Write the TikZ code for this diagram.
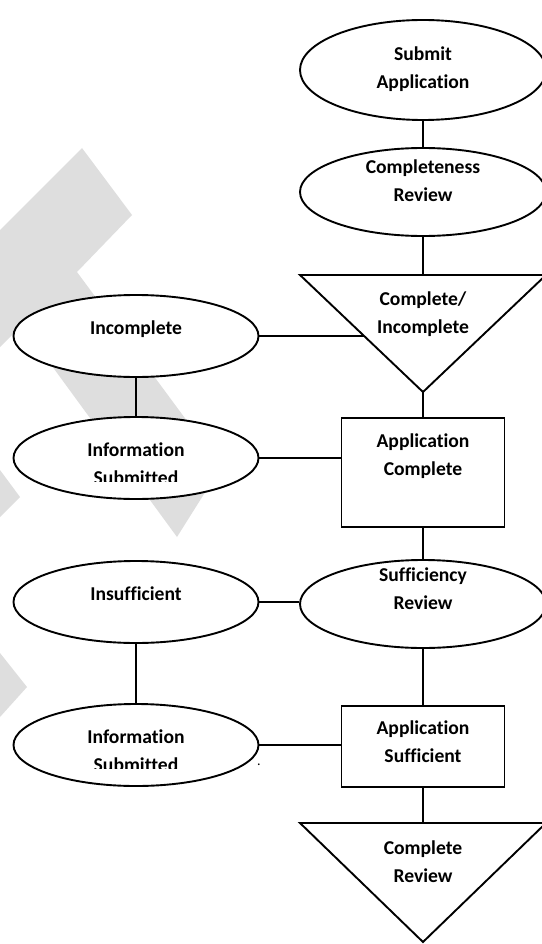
\documentclass[tikz,border=0pt]{standalone}
\usepackage{fontspec}
\setmainfont{Carlito}[Ligatures=NoCommon]
\usetikzlibrary{calc,positioning,shapes.geometric}
\definecolor{markgray}{HTML}{DEDEDE}

\begin{document}
\begin{tikzpicture}[x=1pt,y=-1pt,line width=1.9pt,
		oval/.style={ellipse,draw,fill=white,inner sep=0pt,minimum width=245pt,minimum height=82pt},
		stage/.style={rectangle,draw,fill=white,inner sep=0pt,minimum width=163pt},
		txt/.style={font=\bfseries\fontsize{19.6}{28}\selectfont,align=center,anchor=base,inner sep=0pt}]
		\useasboundingbox (0,0) rectangle (541,944);
		%
		\fill[markgray] (82,148) -- (132,215) -- (77,272) -- (221,467) -- (177,537) -- (22,325) -- (0,347) -- (0,230) -- cycle;
		\fill[markgray] (0,470) -- (20,497) -- (0,517) -- cycle;
		\fill[markgray] (0,653) -- (27,687) -- (0,717) -- cycle;
		%
		\node[oval,minimum width=246pt,minimum height=100pt] (submit) at (423,70) {};
		\node[txt] (submit-t) at (423,89) {Submit\\Application};
		\node[oval,minimum width=246pt,minimum height=88pt] (complrev) at (423,192) {};
		\node[txt] (complrev-t) at (423,201) {Completeness\\Review};
		\coordinate (dec1-nw) at (300,275);
		\coordinate (dec1-ne) at (546,275);
		\coordinate (dec1-s) at (423,392);
		\coordinate (dec1-n) at ($(dec1-nw)!0.5!(dec1-ne)$);
		\coordinate (dec1-w) at ($(dec1-nw)!0.521!(dec1-s)$);
		\draw[fill=white] (dec1-nw) -- (dec1-ne) -- (dec1-s) -- cycle;
		\node[txt] (dec1-t) at (423,333) {Complete/\\Incomplete};
		\node[oval] (incompl) at (136,336) {};
		\node[txt] (incompl-t) at (136,334) {Incomplete};
		\node[oval] (info1) at (136,458) {};
		\begin{scope}
			\clip (70,425) rectangle (202,481.5);
			\node[txt] (info1-t) at (136,484) {Information\\Submitted};
		\end{scope}
		\node[stage,minimum height=109pt] (appcompl) at (423,472.5) {};
		\node[txt] (appcompl-t) at (423,475) {Application\\Complete};
		\node[oval,minimum width=246pt,minimum height=88pt] (suffrev) at (423,604) {};
		\node[txt] (suffrev-t) at (423,609) {Sufficiency\\Review};
		\node[oval] (insuff) at (136,602) {};
		\node[txt] (insuff-t) at (136,600) {Insufficient};
		\node[oval] (info2) at (136,745) {};
		\begin{scope}
			\clip (70,712) rectangle (202,768);
			\node[txt] (info2-t) at (136,771) {Information\\Submitted};
		\end{scope}
		\node[stage,minimum height=81pt] (appsuff) at (423,746.5) {};
		\node[txt] (appsuff-t) at (423,762) {Application\\Sufficient};
		\coordinate (dec2-nw) at (300,823);
		\coordinate (dec2-ne) at (546,823);
		\coordinate (dec2-s) at (423,942);
		\coordinate (dec2-n) at ($(dec2-nw)!0.5!(dec2-ne)$);
		\draw[fill=white] (dec2-nw) -- (dec2-ne) -- (dec2-s) -- cycle;
		\node[txt] (dec2-t) at (423,882) {Complete\\Review};
		\node[font=\fontsize{14}{16}\selectfont,anchor=base,inner sep=0pt] (stray) at (259,765) {.};
		%
		\draw (submit) -- (complrev);
		\draw (complrev) -- (dec1-n);
		\draw (incompl) -- (incompl -| dec1-w);
		\draw (incompl) -- (info1);
		\draw (info1) -- (info1 -| appcompl.west);
		\draw (dec1-s) -- (appcompl);
		\draw (appcompl) -- (suffrev);
		\draw (insuff) -- (insuff -| suffrev.west);
		\draw (insuff) -- (info2);
		\draw (info2) -- (info2 -| appsuff.west);
		\draw (suffrev) -- (appsuff);
		\draw (appsuff) -- (dec2-n);
	\end{tikzpicture}
\end{document}
